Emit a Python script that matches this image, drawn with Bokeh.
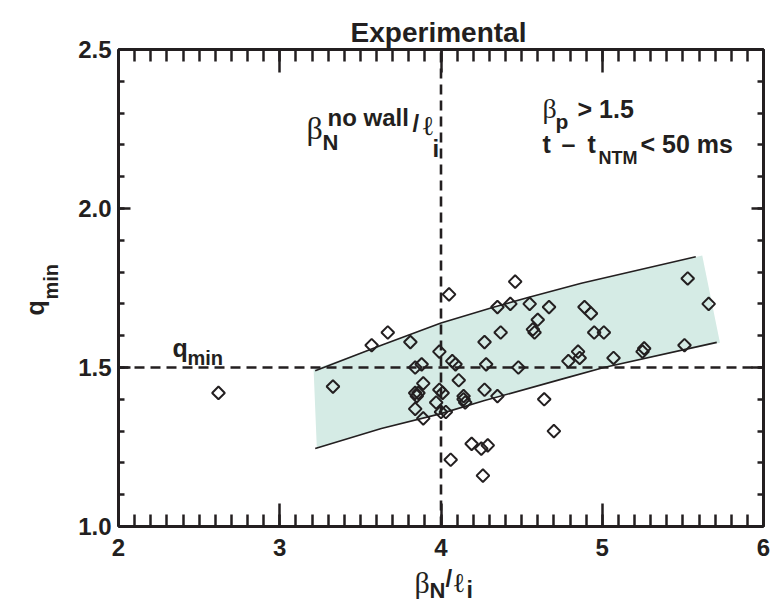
import numpy as np
from bokeh.plotting import figure
from bokeh.models import Range1d, LinearAxis, FixedTicker, Label
from bokeh.embed import file_html
from bokeh.resources import INLINE

# ---------------- data ----------------
beta_n_li = [2.62, 3.33, 3.57, 3.67, 3.81, 3.84, 3.88, 3.89, 3.86, 3.85,
             3.84, 3.84, 3.89, 3.99, 3.99, 4.01, 3.97, 4.00, 4.03, 4.05,
             4.07, 4.09, 4.11, 4.14, 4.14, 4.15, 4.06, 4.19, 4.25, 4.29,
             4.26, 4.27, 4.28, 4.27, 4.35, 4.37, 4.35, 4.43, 4.46, 4.48,
             4.55, 4.57, 4.58, 4.60, 4.67, 4.64, 4.70, 4.79, 4.85, 4.86,
             4.89, 4.93, 4.95, 5.01, 5.07, 5.25, 5.26, 5.51, 5.53, 5.66]
q_min = [1.42, 1.44, 1.57, 1.61, 1.58, 1.50, 1.51, 1.45, 1.42, 1.41,
         1.42, 1.37, 1.34, 1.55, 1.43, 1.42, 1.39, 1.36, 1.36, 1.73,
         1.52, 1.51, 1.46, 1.41, 1.40, 1.39, 1.21, 1.26, 1.245, 1.255,
         1.16, 1.43, 1.51, 1.58, 1.41, 1.61, 1.69, 1.70, 1.77, 1.50,
         1.70, 1.62, 1.61, 1.65, 1.69, 1.40, 1.30, 1.52, 1.55, 1.53,
         1.69, 1.67, 1.61, 1.61, 1.53, 1.55, 1.56, 1.57, 1.78, 1.70]

upper_x = [3.22, 3.63, 4.00, 4.33, 4.54, 4.87, 5.58]
upper_y = [1.49, 1.57, 1.64, 1.69, 1.72, 1.765, 1.848]
lower_x = [3.22, 3.63, 4.00, 4.27, 4.76, 5.01, 5.71]
lower_y = [1.245, 1.308, 1.355, 1.396, 1.465, 1.50, 1.579]

band_x = [3.21, 3.63, 4.00, 4.33, 4.54, 4.87, 5.62, 5.73, 5.01, 4.76, 4.27, 4.00, 3.63, 3.23]
band_y = [1.494, 1.57, 1.64, 1.69, 1.72, 1.765, 1.852, 1.578, 1.50, 1.465, 1.396, 1.355, 1.308, 1.245]

beta_no_wall = [4.0]   # vertical dashed line
q_min_ref = [1.5]      # horizontal dashed line

x_lim = (2, 6)
y_lim = (1.0, 2.5)
x_ticks = [2, 3, 4, 5, 6]
x_tick_labels = ["2", "3", "4", "5", "6"]
y_ticks = [1.0, 1.5, 2.0, 2.5]
y_tick_labels = ["1.0", "1.5", "2.0", "2.5"]

# ---------------- style ----------------
INK = "#231f20"
BAND = "#d5ebe5"
SANS = "Liberation Sans"
SERIF = "Liberation Serif"

W, H = 781, 606
# pixel box of the plotting area inside the canvas
BOX_L, BOX_R, BOX_T, BOX_B = 118, 763, 49, 526

kx = (BOX_R - BOX_L) / (x_lim[1] - x_lim[0])
ky = (BOX_B - BOX_T) / (y_lim[1] - y_lim[0])
x_range = Range1d(x_lim[0] - BOX_L / kx, x_lim[1] + (W - BOX_R) / kx)
y_range = Range1d(y_lim[0] - (H - BOX_B) / ky, y_lim[1] + BOX_T / ky)

p = figure(width=W, height=H, output_backend="svg", toolbar_location=None,
           x_range=x_range, y_range=y_range,
           min_border=0, min_border_left=0, min_border_right=0,
           min_border_top=0, min_border_bottom=0,
           x_axis_location=None, y_axis_location=None)
p.outline_line_color = None
p.xgrid.visible = False
p.ygrid.visible = False
p.background_fill_color = "white"
p.border_fill_color = "white"

x_minor = [round(v, 2) for v in np.arange(x_lim[0], x_lim[1] + 0.001, 0.1)]
y_minor = [round(v, 2) for v in np.arange(y_lim[0], y_lim[1] + 0.001, 0.1)]


def base_axis(ticks, minor, bounds, loc, major_in, minor_in):
    ax = LinearAxis(ticker=FixedTicker(ticks=ticks, minor_ticks=minor),
                    bounds=bounds, fixed_location=loc)
    ax.major_tick_in, ax.minor_tick_in = major_in, minor_in
    ax.major_tick_out = 0
    ax.minor_tick_out = 0
    ax.axis_line_width = 3
    ax.axis_line_color = INK
    ax.major_tick_line_width = 2.5
    ax.minor_tick_line_width = 2.5
    ax.major_tick_line_color = INK
    ax.minor_tick_line_color = INK
    ax.major_label_text_font = SANS
    ax.major_label_text_font_style = "bold"
    ax.major_label_text_color = INK
    ax.major_label_text_font_size = "24px"
    return ax


# bottom (labelled)
bx = base_axis(x_ticks, x_minor, x_lim, y_lim[0], 23, 12)
bx.major_label_overrides = dict(zip(x_ticks, x_tick_labels))
bx.major_label_standoff = 12
p.add_layout(bx, "below")
# left (labelled)
ly = base_axis(y_ticks, y_minor, y_lim, x_lim[0], 12, 6)
ly.major_label_overrides = dict(zip(y_ticks, y_tick_labels))
ly.major_label_standoff = 7
p.add_layout(ly, "left")
# top / right: unlabelled, long ticks drawn as "minor" ticks of a second axis
p.add_layout(base_axis([], x_minor, x_lim, y_lim[1], 0, 12), "above")
p.add_layout(base_axis([], x_ticks, x_lim, y_lim[1], 0, 23), "above")
p.add_layout(base_axis([], y_minor, y_lim, x_lim[1], 0, 6), "right")
p.add_layout(base_axis([], y_ticks, y_lim, x_lim[1], 0, 12), "right")

# shaded band and its edges
p.patch(band_x, band_y, fill_color=BAND, line_color=None)
p.line(upper_x, upper_y, line_color=INK, line_width=1.6)
p.line(lower_x, lower_y, line_color=INK, line_width=1.6)

# reference dashed lines
p.segment(x0=beta_no_wall, y0=[y_lim[0]], x1=beta_no_wall, y1=[y_lim[1]],
          line_color=INK, line_width=2.6, line_dash="10 6")
p.segment(x0=[x_lim[0]], y0=q_min_ref, x1=[x_lim[1]], y1=q_min_ref,
          line_color=INK, line_width=2.6, line_dash="10 6")

# data points (open diamonds)
p.scatter(beta_n_li, q_min, marker="square", angle=np.pi / 4, size=9,
          fill_color=None, line_color=INK, line_width=2)

# ---------------- text ----------------


def at(xp, yp):
    return (x_lim[0] + (xp - BOX_L) / kx, y_lim[0] + (BOX_B - yp) / ky)


def txt(s, xp, yp, size, font=SANS, style="bold", align="left", angle=0):
    x, y = at(xp, yp)
    p.add_layout(Label(x=x, y=y, text=s, text_font=font, text_font_size=f"{size}px",
                       text_font_style=style, text_color=INK, text_align=align,
                       text_baseline="alphabetic", angle=angle, angle_units="deg"))


# title
txt("Experimental", 438, 32, 28, align="center")

# y axis label q_min (rotated)
txt("q", 34, 315, 25, angle=90)
txt("min", 50, 299, 20, angle=90)

# q_min annotation
txt("q", 172, 347, 25)
txt("min", 187, 357, 20)

# beta_N^no wall / l_i annotation
txt("β", 306, 127, 32, font=SERIF, style="normal")
txt("N", 322, 142, 22)
txt("no wall", 327, 117, 24)
txt("/", 412, 123, 24)
txt("ℓ", 421, 125, 27, font=SERIF, style="normal")
txt("i", 432, 148, 24)

# beta_p > 1.5
txt("β", 542, 108, 28, font=SERIF, style="normal")
txt("p", 555, 121, 21)
txt("> 1.5", 577, 108, 25)

# t - t_NTM < 50 ms
txt("t", 542, 143, 25)
txt("–", 568, 143, 25, align="center")
txt("t", 587, 143, 25)
txt("NTM", 598, 157, 18)
txt("< 50 ms", 640, 143, 25)

# x axis label beta_N / l_i
txt("β", 414, 582, 30, font=SERIF, style="normal")
txt("N", 429, 590, 22)
txt("/", 445, 578, 24)
txt("ℓ", 452, 582, 27, font=SERIF, style="normal")
txt("i", 466, 589, 23)

open("out.html", "w").write(file_html(p, INLINE))
